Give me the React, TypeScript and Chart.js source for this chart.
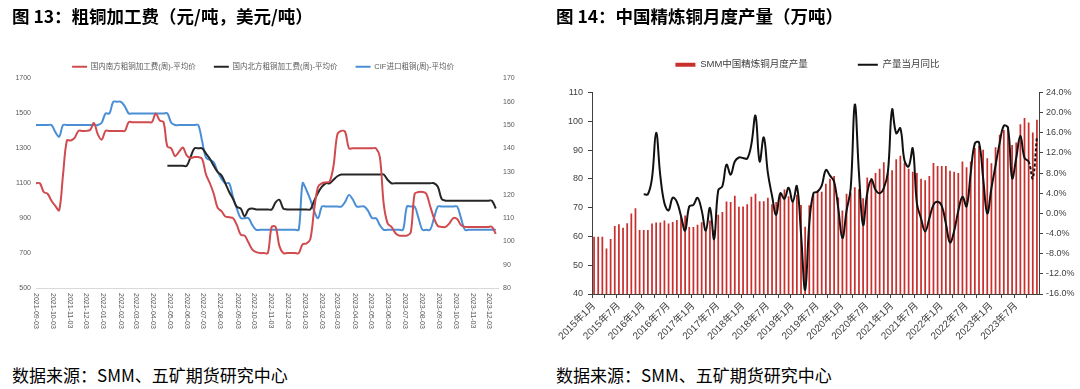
import React, { useEffect, useRef } from 'react';
import { Chart, registerables } from 'chart.js';

Chart.register(...registerables);

const FONT = "'Liberation Sans', 'Noto Sans CJK SC', sans-serif";

// ---------------- 图13 粗铜加工费 (weekly) ----------------
const TC_START_DATE = '2021-09-03';
const TC_DAYS_PER_POINT = 7;
const TC_X_MAX_DAYS = 837;
const TC_MONTH_TICKS = [
  '2021-09-03', '2021-10-03', '2021-11-03', '2021-12-03',
  '2022-01-03', '2022-02-03', '2022-03-03', '2022-04-03', '2022-05-03', '2022-06-03',
  '2022-07-03', '2022-08-03', '2022-09-03', '2022-10-03', '2022-11-03', '2022-12-03',
  '2023-01-03', '2023-02-03', '2023-03-03', '2023-04-03', '2023-05-03', '2023-06-03',
  '2023-07-03', '2023-08-03', '2023-09-03', '2023-10-03', '2023-11-03', '2023-12-03',
];
const TC_LABEL_SOUTH = '国内南方粗铜加工费(周)-平均价';
const TC_LABEL_NORTH = '国内北方粗铜加工费(周)-平均价';
const TC_LABEL_CIF = 'CIF进口粗铜(周)-平均价';

// 元/吨, weekly from 2021-09-03
const SOUTH_TC = [
  1100, 1100, 1050, 1040, 1000, 970, 945, 1150, 1345, 1345,
  1360, 1400, 1400, 1400, 1405, 1445, 1380, 1350, 1400, 1400,
  1400, 1400, 1400, 1400, 1450, 1450, 1450, 1450, 1450, 1450,
  1450, 1500, 1460, 1450, 1310, 1300, 1255, 1280, 1305, 1260,
  1245, 1250, 1250, 1240, 1150, 1100, 1040, 960, 940, 910,
  905, 900, 860, 805, 800, 760, 720, 705, 700, 700,
  700, 850, 850, 740, 700, 700, 700, 700, 700, 750,
  755, 780, 950, 1080, 1100, 1105, 1110, 1200, 1380, 1400,
  1395, 1300, 1300, 1300, 1300, 1300, 1300, 1300, 1300, 1250,
  980, 870, 850, 815, 800, 800, 800, 820, 1040, 1050,
  1050, 1040, 970, 900, 855, 850, 850, 870, 900, 895,
  860, 850, 850, 850, 850, 850, 850, 850, 850, 810,
];
// 元/吨, weekly, first point is week index 34
const NORTH_TC_FIRST_WEEK = 34;
const NORTH_TC = [
  1200, 1200, 1200, 1200, 1200, 1200, 1250, 1300, 1300, 1300,
  1270, 1240, 1200, 1165, 1145, 1100, 1050, 1010, 965, 955,
  910, 950, 955, 950, 950, 950, 950, 950, 990, 1005,
  955, 950, 950, 950, 950, 950, 950, 950, 1000, 1045,
  1080, 1100, 1100, 1120, 1140, 1150, 1150, 1150, 1150, 1150,
  1150, 1150, 1150, 1150, 1150, 1150, 1150, 1120, 1100, 1100,
  1100, 1100, 1100, 1100, 1100, 1100, 1100, 1100, 1100, 1100,
  1080, 1010, 1000, 1000, 1000, 1000, 1000, 1000, 1000, 1000,
  1000, 1000, 1000, 1000, 1000, 955,
];
// 美元/吨, weekly from 2021-09-03
const CIF_TC = [
  150, 150, 150, 150, 150, 147, 145, 150, 150, 150,
  150, 150, 150, 150, 150, 150, 150, 151, 155, 155,
  160, 160, 160, 158, 155, 155, 155, 155, 155, 155,
  155, 155, 155, 155, 155, 151, 150, 150, 150, 150,
  150, 150, 150, 143, 136, 135, 134, 130, 127, 125,
  125, 119, 114, 110, 110, 110, 107, 105, 105, 105,
  105, 105, 105, 105, 105, 105, 105, 105, 105, 125,
  122, 118, 113, 110, 115, 115, 115, 115, 115, 115,
  117, 120, 118, 115, 115, 115, 113, 110, 110, 107,
  105, 105, 105, 105, 105, 105, 115, 115, 115, 110,
  105, 105, 105, 110, 115, 115, 115, 115, 115, 115,
  110, 105, 105, 105, 105, 105, 105, 105, 105, 105,
];

// ---------------- 图14 中国精炼铜月度产量 (monthly from 2015-01) ----------------
const OUTPUT_START_YEAR = 2015;
const OUTPUT_LABEL = 'SMM中国精炼铜月度产量';
const YOY_LABEL = '产量当月同比';
// 万吨
const OUTPUT = [
  59.9, 59.9, 59.9, 55.8, 59.1, 63.6, 64.2, 63.0, 64.6, 68.0, 69.8, 62.2,
  62.2, 62.2, 64.5, 64.8, 64.8, 65.5, 64.5, 65.0, 65.7, 67.0, 67.3, 63.3,
  63.3, 64.1, 64.9, 62.6, 65.5, 62.2, 67.5, 68.5, 72.1, 72.0, 74.1, 70.3,
  70.4, 71.2, 73.8, 74.8, 72.2, 72.2, 73.4, 71.2, 72.0, 74.5, 76.3, 74.0,
  72.5, 74.5, 70.9, 63.4, 70.8, 74.5, 76.0, 75.5, 78.3, 80.0, 81.0, 73.5,
  69.0, 74.8, 75.3, 77.1, 76.4, 73.3, 80.5, 80.3, 82.0, 83.5, 85.8, 82.0,
  83.0, 86.8, 88.0, 85.5, 83.5, 82.5, 82.0, 80.0, 79.5, 81.0, 85.5, 84.5,
  84.5, 84.5, 82.8, 82.5, 82.0, 86.0, 84.0, 86.0, 90.7, 91.5, 90.1, 87.2,
  85.4, 91.0, 95.3, 97.0, 98.2, 91.8, 92.6, 99.0, 101.1, 99.6, 96.1, 100.5,
];
// %, null where no value is shown (2015)
const YOY = [
  null, null, null, null, null, null, null, null, null, null, null, null,
  3.8, 3.8, 7.0, 16.0, 7.5, 2.0, 0.6, 3.1, 2.3, -0.5, -3.4, 1.4,
  1.7, 3.1, 0.6, -3.4, 1.1, -5.1, 4.6, 5.4, 9.7, 7.7, 10.3, 11.1,
  11.0, 10.9, 13.7, 19.4, 10.3, 15.1, 8.0, 3.5, -0.3, 4.0, 2.9, 5.1,
  2.3, 5.4, -4.0, -15.2, -2.0, 4.0, 4.3, 5.5, 8.6, 7.5, 6.3, 1.0,
  -4.9, 0.5, 5.0, 21.6, 8.0, -2.3, 4.0, 6.7, 4.7, 4.0, 5.0, 8.3,
  20.6, 15.9, 16.9, 10.5, 9.3, 12.9, 2.0, -1.0, -3.6, -1.0, 1.7, 2.3,
  1.5, -2.0, -5.8, -3.5, 0.5, 3.3, 1.4, 8.0, 13.9, 14.1, 7.0, 0.0,
  5.0, 9.5, 14.0, 17.4, 17.0, 7.0, 11.0, 15.4, 11.0, 10.3, 7.0, 15.3,
];
// index from which the YoY line is drawn dashed (forecast)
const YOY_DASH_FROM = 105;

const MONTH_LABELS = OUTPUT.map(
  (_, i) => `${OUTPUT_START_YEAR + Math.floor(i / 12)}年${(i % 12) + 1}月`
);

// ---------------- colours ----------------
const RED = '#D04B4F';
const BLACK = '#262626';
const BLUE = '#4A8FD6';
const BAR_RED = '#C8302E';
const LEFT_TEXT = '#595959';
const RIGHT_TEXT = '#404040';
const AXIS = '#404040';

const dayOffset = (d: string) =>
  Math.round((Date.parse(d) - Date.parse(TC_START_DATE)) / 86400000);

function legendGapPlugin(extra: number) {
  return {
    id: 'legendGap',
    beforeInit(chart: any) {
      const lg = chart.legend;
      if (!lg) return;
      const fit = lg.fit;
      lg.fit = function () {
        fit.call(this);
        this.height += extra;
      };
    },
  };
}

function verticalDateLabels(labels: string[], values: number[]) {
  return {
    id: 'verticalDateLabels',
    afterDraw(chart: any) {
      const xs = chart.scales.x;
      const ctx = chart.ctx;
      ctx.save();
      ctx.font = `7px ${FONT}`;
      ctx.fillStyle = LEFT_TEXT;
      ctx.textAlign = 'left';
      ctx.textBaseline = 'middle';
      labels.forEach((lab, i) => {
        const px = xs.getPixelForValue(values[i]);
        ctx.save();
        ctx.translate(px, chart.chartArea.bottom + 5);
        ctx.rotate(Math.PI / 2);
        ctx.fillText(lab, 0, 0);
        ctx.restore();
      });
      ctx.restore();
    },
  };
}

const byDatasetIndex = (a: any, b: any) => a.datasetIndex - b.datasetIndex;

export default function App() {
  const leftRef = useRef<HTMLCanvasElement>(null);
  const rightRef = useRef<HTMLCanvasElement>(null);

  useEffect(() => {
    const tickDays = TC_MONTH_TICKS.map(dayOffset);
    const toPts = (arr: number[], first = 0) =>
      arr.map((v, k) => ({ x: (k + first) * TC_DAYS_PER_POINT, y: v }));

    const leftFont = { family: FONT, size: 7 };
    const c1 = new Chart(leftRef.current as HTMLCanvasElement, {
      type: 'line',
      data: {
        datasets: [
          {
            label: TC_LABEL_SOUTH,
            data: toPts(SOUTH_TC),
            borderColor: RED,
            backgroundColor: RED,
            borderWidth: 2,
            pointRadius: 0,
            pointStyle: 'line',
            tension: 0.35,
            yAxisID: 'y',
          },
          {
            label: TC_LABEL_NORTH,
            data: toPts(NORTH_TC, NORTH_TC_FIRST_WEEK),
            borderColor: BLACK,
            backgroundColor: BLACK,
            borderWidth: 2,
            pointRadius: 0,
            pointStyle: 'line',
            tension: 0.35,
            yAxisID: 'y',
          },
          {
            label: TC_LABEL_CIF,
            data: toPts(CIF_TC),
            borderColor: BLUE,
            backgroundColor: BLUE,
            borderWidth: 2,
            pointRadius: 0,
            pointStyle: 'line',
            tension: 0.35,
            yAxisID: 'y1',
          },
        ],
      },
      options: {
        animation: false,
        responsive: false,
        layout: { padding: { top: 45, left: 0, right: 14, bottom: 0 } },
        plugins: {
          tooltip: { enabled: false },
          legend: {
            display: true,
            position: 'top',
            labels: {
              usePointStyle: true,
              pointStyleWidth: 15,
              boxHeight: 2,
              padding: 18,
              color: LEFT_TEXT,
              font: { family: FONT, size: 7.5 },
              sort: byDatasetIndex,
            },
          },
        },
        scales: {
          x: {
            type: 'linear',
            min: 0,
            max: TC_X_MAX_DAYS,
            grid: { display: false },
            border: { display: true, color: '#D9D9D9', width: 1 },
            ticks: { display: false },
            afterFit: (s: any) => {
              s.height = 57;
            },
          },
          y: {
            position: 'left',
            min: 500,
            max: 1700,
            grid: { display: false, drawTicks: false },
            border: { display: false },
            ticks: {
              stepSize: 200,
              color: LEFT_TEXT,
              font: leftFont,
              padding: 5,
              callback: (v: any) => String(v),
            },
            afterFit: (s: any) => {
              s.width = 36;
            },
          },
          y1: {
            position: 'right',
            min: 80,
            max: 170,
            grid: { display: false, drawTicks: false },
            border: { display: false },
            ticks: {
              stepSize: 10,
              color: LEFT_TEXT,
              font: leftFont,
              padding: 5,
              callback: (v: any) => String(v),
            },
            afterFit: (s: any) => {
              s.width = 28;
            },
          },
        },
      } as any,
      plugins: [legendGapPlugin(-2), verticalDateLabels(TC_MONTH_TICKS, tickDays)],
    });

    const c2 = new Chart(rightRef.current as HTMLCanvasElement, {
      type: 'bar',
      data: {
        labels: MONTH_LABELS,
        datasets: [
          {
            type: 'bar',
            label: OUTPUT_LABEL,
            data: OUTPUT,
            backgroundColor: BAR_RED,
            borderColor: BAR_RED,
            borderWidth: 0,
            barPercentage: 0.42,
            categoryPercentage: 1,
            pointStyle: 'rect',
            yAxisID: 'y',
            order: 1,
          },
          {
            type: 'line',
            label: YOY_LABEL,
            data: YOY,
            borderColor: '#111111',
            backgroundColor: '#111111',
            borderWidth: 2,
            pointRadius: 0,
            pointStyle: 'line',
            tension: 0.4,
            yAxisID: 'y1',
            order: 0,
            segment: {
              borderDash: (ctx: any) => (ctx.p0DataIndex >= YOY_DASH_FROM ? [3, 2] : undefined),
            },
          },
        ],
      } as any,
      options: {
        animation: false,
        responsive: false,
        layout: { padding: { top: 10, left: 0, right: 5, bottom: 0 } },
        plugins: {
          tooltip: { enabled: false },
          legend: {
            display: true,
            position: 'top',
            labels: {
              usePointStyle: true,
              pointStyleWidth: 20,
              boxHeight: 4,
              padding: 50,
              color: RIGHT_TEXT,
              font: { family: FONT, size: 9.5 },
              sort: byDatasetIndex,
            },
          },
        },
        scales: {
          x: {
            grid: {
              display: true,
              drawOnChartArea: false,
              drawTicks: true,
              tickLength: 4,
              offset: true,
              color: AXIS,
              tickColor: (ctx: any) => (ctx.index % 3 === 0 ? AXIS : 'rgba(0,0,0,0)'),
            },
            border: { display: true, color: AXIS, width: 1 },
            ticks: {
              autoSkip: false,
              maxRotation: 45,
              minRotation: 45,
              padding: 2,
              color: RIGHT_TEXT,
              font: { family: FONT, size: 10 },
              callback: (_v: any, i: number) => (i % 6 === 0 ? MONTH_LABELS[i] : ''),
            },
            afterFit: (s: any) => {
              s.height = 51;
            },
          },
          y: {
            position: 'left',
            min: 40,
            max: 110,
            grid: { display: true, drawOnChartArea: false, drawTicks: true, tickLength: 4, color: AXIS },
            border: { display: true, color: AXIS, width: 1 },
            ticks: { stepSize: 10, color: RIGHT_TEXT, font: { family: FONT, size: 9 }, padding: 5 },
            afterFit: (s: any) => {
              s.width = 52;
            },
          },
          y1: {
            position: 'right',
            min: -16,
            max: 24,
            grid: { display: true, drawOnChartArea: false, drawTicks: true, tickLength: 4, color: AXIS },
            border: { display: true, color: AXIS, width: 1 },
            ticks: {
              stepSize: 4,
              color: RIGHT_TEXT,
              font: { family: FONT, size: 9 },
              padding: 3,
              callback: (v: any) => `${Number(v).toFixed(1)}%`,
            },
            afterFit: (s: any) => {
              s.width = 36;
            },
          },
        },
      } as any,
      plugins: [legendGapPlugin(13)],
    });

    return () => {
      c1.destroy();
      c2.destroy();
    };
  }, []);

  const titleStyle = (left: number): React.CSSProperties => ({
    position: 'absolute',
    left,
    top: 7,
    fontFamily: "'Noto Sans CJK SC', sans-serif",
    fontWeight: 700,
    fontSize: 17.5,
    lineHeight: '18px',
    color: '#000',
    whiteSpace: 'nowrap',
  });
  const sourceStyle = (left: number): React.CSSProperties => ({
    position: 'absolute',
    left,
    top: 366,
    fontFamily: "'Noto Sans CJK SC', sans-serif",
    fontWeight: 400,
    fontSize: 17,
    lineHeight: '18px',
    color: '#000',
    whiteSpace: 'nowrap',
  });

  return (
    <div
      style={{
        position: 'fixed',
        left: 0,
        top: 0,
        width: 1080,
        height: 389,
        background: '#fff',
        overflow: 'hidden',
      }}
    >
      <canvas
        ref={leftRef}
        width={540}
        height={345}
        style={{ position: 'absolute', left: 0, top: 0, width: 540, height: 345 }}
      />
      <canvas
        ref={rightRef}
        width={540}
        height={345}
        style={{ position: 'absolute', left: 540, top: 0, width: 540, height: 345 }}
      />
      <div style={titleStyle(12)}>图 13：粗铜加工费（元/吨，美元/吨）</div>
      <div style={titleStyle(556)}>图 14：中国精炼铜月度产量（万吨）</div>
      <div style={sourceStyle(12)}>数据来源：SMM、五矿期货研究中心</div>
      <div style={sourceStyle(556)}>数据来源：SMM、五矿期货研究中心</div>
    </div>
  );
}
